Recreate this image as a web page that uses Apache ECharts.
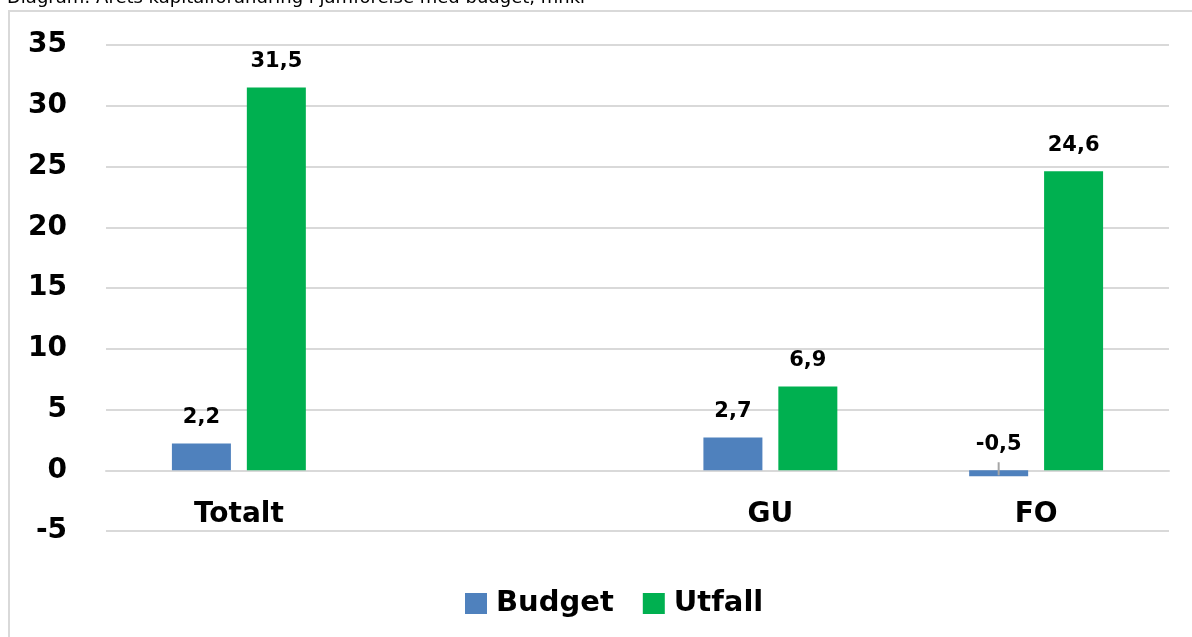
<!DOCTYPE html>
<html>
<head>
<meta charset="utf-8">
<script src="https://cdn.jsdelivr.net/npm/echarts@6/dist/echarts.min.js"></script>
<style>html,body{margin:0;padding:0;background:#fff;}#c{width:1192px;height:637px;}</style>
</head>
<body>
<div id="c"></div>
<script>
var categories = ['Totalt', '', 'GU', 'FO'];
var budget = [2.2, null, 2.7, -0.5];
var utfall = [31.5, null, 6.9, 24.6];
var yTicks = {min: -5, max: 35, interval: 5};
var titleText = 'Diagram: Årets kapitalförändring i jämförelse med budget, mnkr';

var font = '"DejaVu Sans", Verdana, sans-serif';
function fmt(p) { return p.value == null ? '' : Number(p.value).toFixed(1).replace('.', ','); }

var chart = echarts.init(document.getElementById('c'));
chart.setOption({
  animation: false,
  backgroundColor: '#fff',
  graphic: [
    {id: 'title', type: 'text', left: 7, top: -11, style: {text: titleText, fontFamily: font, fontSize: 18, fill: '#000'}},
    {id: 'frame', type: 'rect', shape: {x: 9, y: 11, width: 1200, height: 700}, style: {fill: 'none', stroke: '#d9d9d9', lineWidth: 2}, z: -1}
  ],
  grid: {left: 106, right: 23, top: 45, bottom: 106},
  legend: {
    data: ['Budget', 'Utfall'],
    left: 460, top: 584,
    icon: 'rect', itemWidth: 22, itemHeight: 21, itemGap: 29,
    textStyle: {fontFamily: font, fontWeight: 'bold', fontSize: 29, color: '#000', padding: [0, 0, 0, 4]}
  },
  xAxis: {
    type: 'category',
    data: categories,
    axisTick: {show: false},
    axisLine: {onZero: true, lineStyle: {color: '#d9d9d9', width: 2}},
    axisLabel: {margin: -30, fontFamily: font, fontWeight: 'bold', fontSize: 28, color: '#000'}
  },
  yAxis: {
    type: 'value',
    min: yTicks.min, max: yTicks.max, interval: yTicks.interval,
    axisLine: {show: false}, axisTick: {show: false},
    splitLine: {lineStyle: {color: '#d9d9d9', width: 2}},
    axisLabel: {margin: 39, fontFamily: font, fontWeight: 'bold', fontSize: 28, color: '#000'}
  },
  series: [
    {name: 'Budget', type: 'bar', data: budget, barWidth: 59, barGap: '27%',
     itemStyle: {color: '#4f81bd'},
     label: {show: true, position: 'top', distance: 15, formatter: fmt, fontFamily: font, fontWeight: 'bold', fontSize: 21, color: '#000'}},
    {name: 'Utfall', type: 'bar', data: utfall, barWidth: 59,
     itemStyle: {color: '#00b050'},
     label: {show: true, position: 'top', distance: 15, formatter: fmt, fontFamily: font, fontWeight: 'bold', fontSize: 21, color: '#000'}}
  ]
});

// leader line for negative budget bar label, positioned from the library's own bar layout
try {
  var data = chart.getModel().getSeriesByIndex(0).getData();
  var lines = [];
  for (var i = 0; i < budget.length; i++) {
    if (budget[i] != null && budget[i] < 0) {
      var lay = data.getItemLayout(i);
      var cx = lay.x + lay.width / 2;
      var y0 = lay.y;
      var y1 = lay.y + lay.height;
      lines.push({type: 'line', z: 10, shape: {x1: cx, y1: Math.min(y0, y1) - 8, x2: cx, y2: Math.max(y0, y1) - 1},
                  style: {stroke: '#a6a6a6', lineWidth: 2}});
    }
  }
  if (lines.length) {
    chart.setOption({graphic: [{id: 'title'}, {id: 'frame'}].concat(lines.map(function (l, k) { l.id = 'lead' + k; return l; }))});
  }
} catch (e) {}
</script>
</body>
</html>
